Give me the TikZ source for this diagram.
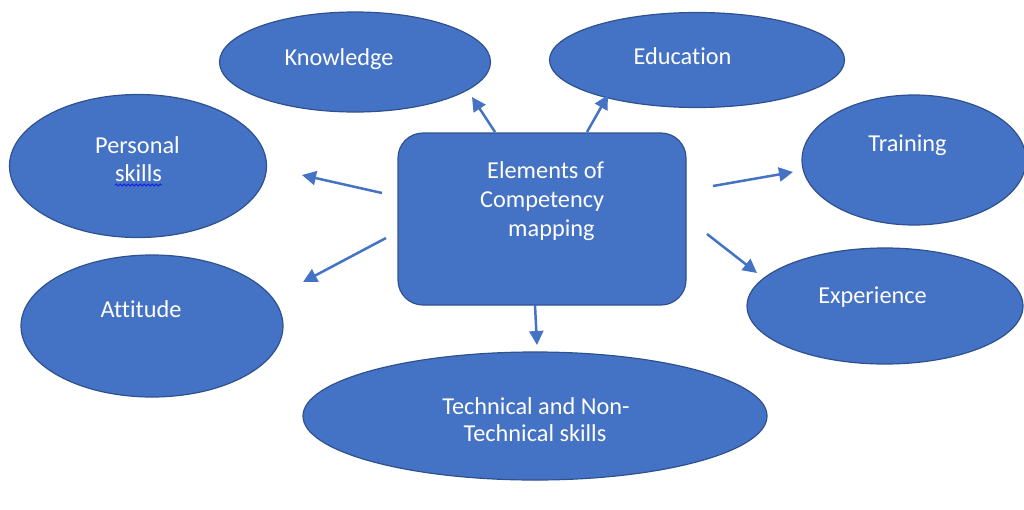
\documentclass[tikz,border=0pt]{standalone}
\usepackage{fontspec}
\setmainfont[Ligatures=CommonOff]{Carlito}
\usetikzlibrary{shapes.geometric,arrows.meta,decorations.pathmorphing}
\definecolor{fillb}{HTML}{4472C4}
\definecolor{lineb}{HTML}{2F528F}
\definecolor{spell}{HTML}{1A1AE6}
\begin{document}
\begin{tikzpicture}[x=1pt,y=-1pt,
  oval/.style={ellipse,draw=lineb,fill=fillb,line width=1.2pt,inner sep=0pt},
  boxst/.style={rectangle,rounded corners=25pt,draw=lineb,fill=fillb,line width=1.2pt,inner sep=0pt},
  lbl/.style={text=white,font=\fontsize{24.3}{28}\selectfont,inner sep=0pt,anchor=base},
  conn/.style={draw=fillb,line width=2.5pt,-{Triangle[length=14pt,width=14pt]}}]
\useasboundingbox (0,0) rectangle (1024,509);
\begin{scope}
\clip (0,0) rectangle (1024,509);
\node[oval,minimum width=271pt,minimum height=100pt] (know) at (355,62) {};
\node[oval,minimum width=295pt,minimum height=95pt] (edu) at (697,60) {};
\node[oval,minimum width=257pt,minimum height=143pt] (pers) at (138,166) {};
\node[oval,minimum width=224pt,minimum height=130pt] (train) at (914,160) {};
\node[oval,minimum width=262pt,minimum height=142pt] (att) at (152,326) {};
\node[oval,minimum width=276pt,minimum height=116pt] (exp) at (885,306) {};
\node[oval,minimum width=464pt,minimum height=128pt] (tech) at (535,416) {};
\node[boxst,minimum width=288pt,minimum height=172pt] (box) at (542,219) {};
\end{scope}

\node[lbl] (knowT) at (339,65) {Knowledge};
\node[lbl] (eduT) at (682.5,64) {Education};
\node[lbl] (persT1) at (137.5,153) {Personal};
\node[lbl] (persT2) at (138.5,181) {skills};
\node[lbl] (trainT) at (907.5,151) {Training};
\node[lbl] (attT) at (141,317) {Attitude};
\node[lbl] (expT) at (872.5,303) {Experience};
\node[lbl] (techT1) at (536,414) {Technical and Non-};
\node[lbl] (techT2) at (535,441) {Technical skills};
\node[lbl,anchor=base west] (boxT1) at (487,178) {Elements of};
\node[lbl,anchor=base west] (boxT2) at (480,207) {Competency};
\node[lbl,anchor=base west] (boxT3) at (508,236) {mapping};

\draw[spell,line width=0.8pt,decorate,decoration={snake,amplitude=1pt,segment length=4pt}]
  (115,185) -- (162,185);

\coordinate (ks) at (495,132); \coordinate (ke) at (472,97);
\coordinate (es) at (587,132); \coordinate (ee) at (608,95);
\coordinate (ps) at (382,193); \coordinate (pe) at (302,175);
\coordinate (as) at (386,238); \coordinate (ae) at (303,282);
\coordinate (ts) at (713,186); \coordinate (te) at (793,172);
\coordinate (xs) at (707,234); \coordinate (xe) at (757,273);
\coordinate (cs) at (535,305); \coordinate (ce) at (537,345);
\draw[conn] (ks) -- (ke);
\draw[conn] (es) -- (ee);
\draw[conn] (ps) -- (pe);
\draw[conn] (as) -- (ae);
\draw[conn] (ts) -- (te);
\draw[conn] (xs) -- (xe);
\draw[conn] (cs) -- (ce);
\end{tikzpicture}
\end{document}
